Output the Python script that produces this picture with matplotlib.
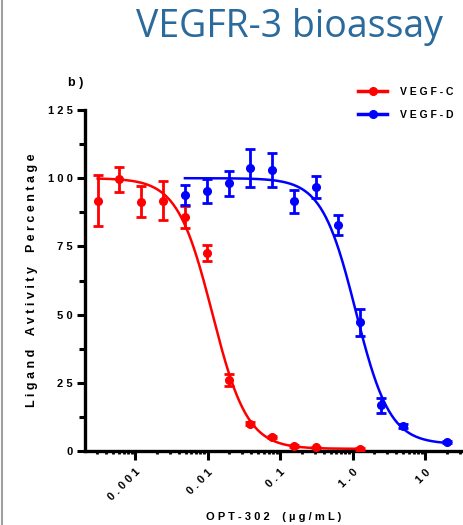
import numpy as np
import matplotlib
matplotlib.use('Agg')
import matplotlib.pyplot as plt
from matplotlib.lines import Line2D
from matplotlib.ticker import FixedLocator, NullFormatter

# OPT-302 concentrations (ug/mL), two-fold dilutions
conc_c = [0.000305, 0.00061, 0.00122, 0.00244, 0.00488, 0.00977,
          0.0195, 0.039, 0.078, 0.156, 0.3125, 1.25]
vegf_c = [91.8, 99.6, 91.4, 91.8, 85.9, 72.5, 26.0, 10.0, 5.1, 1.8, 1.3, 0.8]
err_c = [9.5, 4.5, 5.8, 7.0, 4.0, 3.0, 2.2, 0.6, 0.5, 0.4, 0.3, 0.3]

conc_d = [0.00488, 0.00977, 0.0195, 0.039, 0.078, 0.156, 0.3125,
          0.625, 1.25, 2.5, 5.0, 20.0]
vegf_d = [93.9, 95.3, 98.1, 103.6, 103.0, 91.5, 96.9, 82.9, 47.2, 16.7, 9.2, 3.2]
err_d = [3.6, 4.4, 4.6, 7.0, 6.1, 4.2, 4.0, 3.6, 5.0, 2.7, 0.8, 0.4]

# 4PL fit parameters: top, bottom, IC50, hill
fit_c = [100.0, 0.8, 0.01165, 1.8]
fit_d = [100.0, 2.5, 1.11, 1.85]

x_ticks = [0.001, 0.01, 0.1, 1.0, 10]
x_labels = ['0.001', '0.01', '0.1', '1.0', '10']
y_ticks = [0, 25, 50, 75, 100, 125]


def spaced(s):
    # wide letter spacing, as in the original figure
    return ' '.join(s).replace('   ', '    ')


def four_pl(x, p):
    top, bottom, ic50, hill = p
    return bottom + (top - bottom) / (1 + (x / ic50) ** hill)


plt.rcParams['font.family'] = ['Liberation Sans', 'DejaVu Sans']
plt.rcParams['font.weight'] = 'bold'

fig = plt.figure(figsize=(4.63, 5.25), dpi=100)
ax = fig.add_axes([85 / 463, 74 / 525, 378 / 463, 341 / 525])

for conc, vals, errs, fit, col in [(conc_c, vegf_c, err_c, fit_c, '#FF0000'),
                                   (conc_d, vegf_d, err_d, fit_d, '#0000FF')]:
    xs = np.logspace(np.log10(conc[0]), np.log10(conc[-1]), 300)
    ax.plot(xs, four_pl(xs, fit), color=col, lw=1.8, zorder=2)
    ax.errorbar(conc, vals, yerr=errs, fmt='o', color=col, ms=5.5,
                elinewidth=2.0, capsize=3.3, capthick=2.0, zorder=3)

ax.set_xscale('log')
ax.set_xlim(10 ** -3.69, 10 ** 1.524)
ax.set_ylim(0, 125)

ax.xaxis.set_major_locator(FixedLocator(x_ticks))
ax.set_xticklabels([spaced(t) for t in x_labels], rotation=45,
                   ha='right', va='top', rotation_mode='anchor',
                   fontsize=8, fontweight='bold')
minors = [m * 10.0 ** e for e in range(-4, 2) for m in range(2, 10)]
ax.xaxis.set_minor_locator(FixedLocator(minors))
ax.xaxis.set_minor_formatter(NullFormatter())

ax.set_yticks(y_ticks)
ax.set_yticklabels([spaced(str(t)) for t in y_ticks], fontsize=8,
                   fontweight='bold')
ax.yaxis.set_minor_locator(FixedLocator([12.5, 37.5, 62.5, 87.5, 112.5]))

ax.tick_params(axis='y', which='major', length=6, width=2.2, pad=3)
ax.tick_params(axis='x', which='major', length=6.5, width=2.2, pad=5)
ax.tick_params(axis='x', which='minor', length=2.5, width=2.0)
ax.tick_params(axis='y', which='minor', length=4, width=2.2)

for s in ['top', 'right']:
    ax.spines[s].set_visible(False)
for s in ['left', 'bottom']:
    ax.spines[s].set_linewidth(2.4)

ax.set_xlabel(spaced('OPT-302 (µg/mL)'), fontsize=8, fontweight='bold',
              labelpad=7)
ax.set_ylabel(spaced('Ligand Avtivity Percentage'), fontsize=9,
              fontweight='bold', labelpad=7)

handles = [Line2D([], [], color='#FF0000', marker='o', ms=5.5, lw=2.5),
           Line2D([], [], color='#0000FF', marker='o', ms=5.5, lw=2.5)]
fig.legend(handles, [spaced('VEGF-C'), spaced('VEGF-D')],
           loc='upper right', bbox_to_anchor=(1.0, 0.852), frameon=False,
           prop={'size': 7.5, 'weight': 'bold'}, handlelength=2.7,
           labelspacing=1.25, handletextpad=1.3)

fig.text(68 / 463, 1 - 86 / 525, spaced('b)'), fontsize=9, fontweight='bold',
         ha='left', va='baseline')
fig.text(289 / 463, 1 - 37 / 525, 'VEGFR-3 bioassay', fontsize=27,
         color='#2A6A9C', ha='center', va='baseline', fontweight='normal',
         family=['Open Sans', 'DejaVu Sans'])

# grey page border on the left
fig.add_artist(Line2D([1.5 / 463, 1.5 / 463], [0, 1], color='#A0A0A0',
                      lw=1.5, transform=fig.transFigure))

fig.savefig('out.png', dpi=100)
